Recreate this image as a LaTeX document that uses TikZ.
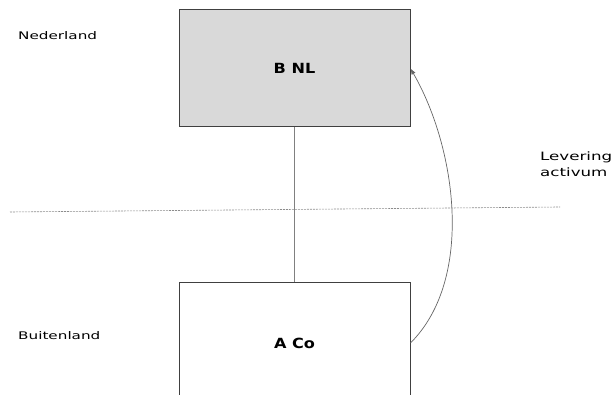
\documentclass[tikz,border=0pt]{standalone}
\usepackage{fontspec}
\setmainfont{DejaVu Sans}
\newfontfamily\widefont[FakeStretch=1.45]{DejaVu Sans}
\newfontfamily\boxfont[FakeStretch=1.15]{DejaVu Sans}
\usetikzlibrary{positioning,arrows.meta}
\begin{document}
\begin{tikzpicture}
			[x=1pt,y=1pt,>={Latex[length=6pt,width=4.5pt]},
			box/.style={draw=black!75,line width=1pt,minimum width=231pt,inner sep=0pt,font=\boxfont\bfseries\fontsize{14}{16}\selectfont},
			land/.style={anchor=base west,inner sep=0pt,font=\widefont\fontsize{10.5}{16}\selectfont}]
			\useasboundingbox (0,0) rectangle (615,395);
			\clip (0,0) rectangle (615,395);
			\node[box,name=bnl,fill=black!15,minimum height=117pt] at (294.5,326.5) {B NL};
			\node[box,name=aco,minimum height=120pt,below=155pt of bnl] {A Co};
			\draw[black!50,line width=0.8pt](bnl) -- (aco);
			\draw[->,black!60,line width=0.7pt](aco.east) to [out=45,in=-60,looseness=0.85] (bnl.east);
			\coordinate (grensl) at (10,183);
			\coordinate (grensr) at (560,188);
			\draw[black!45,dash pattern=on 2pt off 1pt,line width=0.6pt](grensl) -- (grensr);
			\node[land,name=nl] at (18,355) {Nederland};
			\node[land,name=bl] at (18,55) {Buitenland};
			\node[land,name=lev,anchor=north west,align=left,font=\widefont\fontsize{11.5}{16}\selectfont] at (540,243) {Levering\\activum};
		\end{tikzpicture}
\end{document}
